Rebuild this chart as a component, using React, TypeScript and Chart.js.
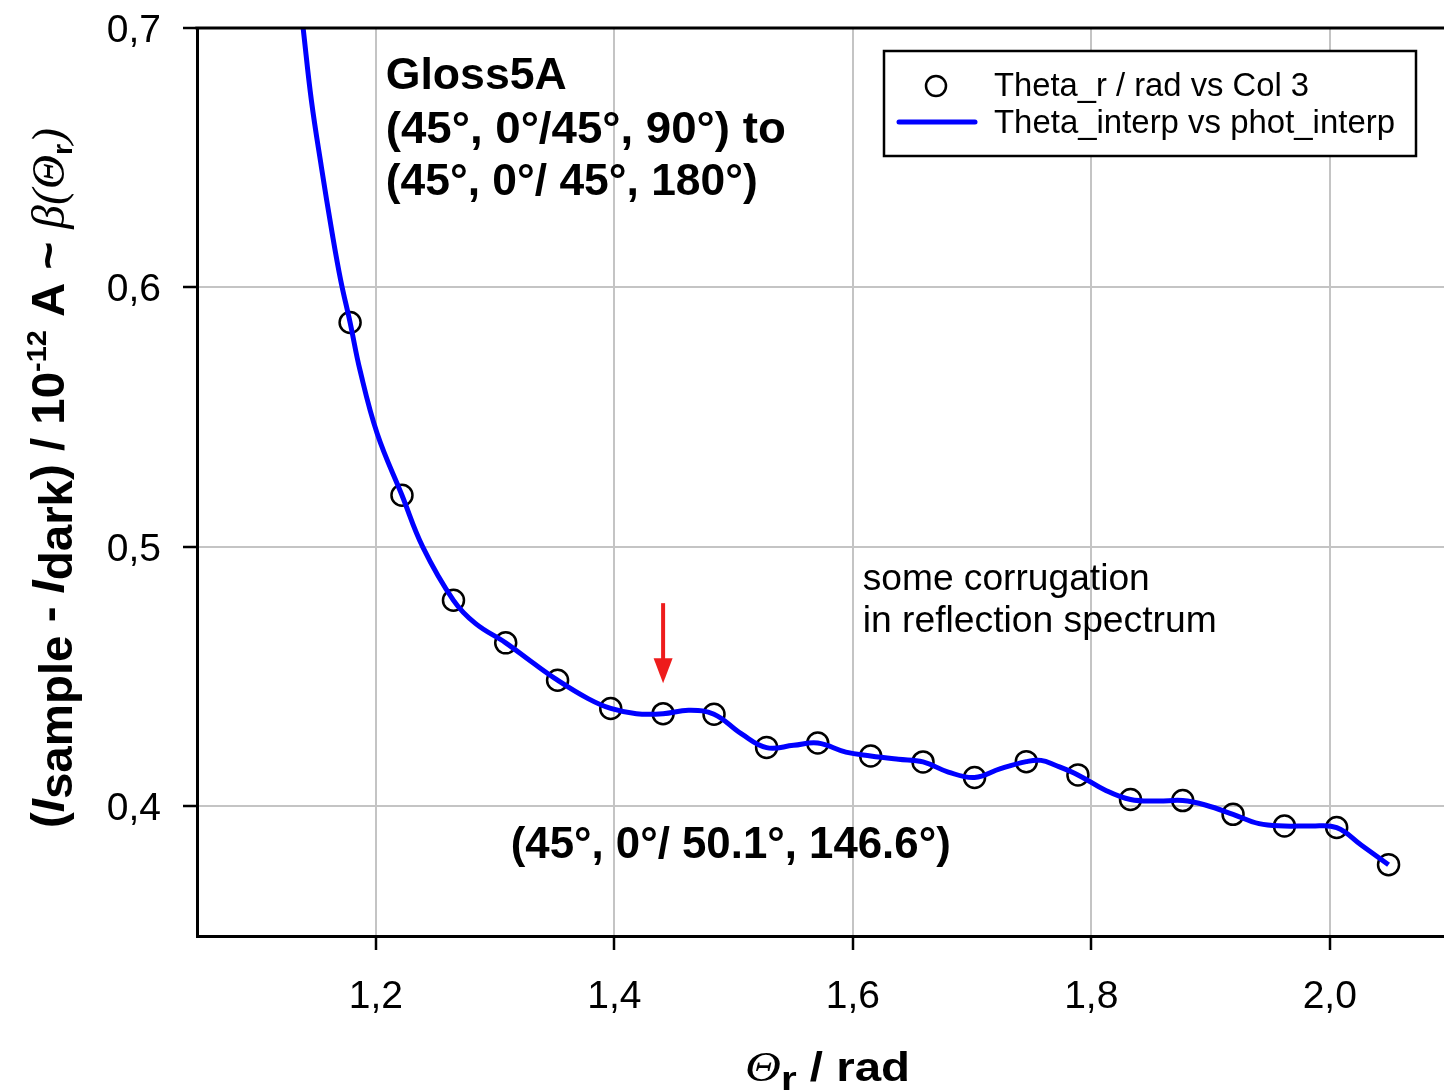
import React, { useEffect, useRef } from 'react';
import { Chart, registerables } from 'chart.js';
Chart.register(...registerables);

// Measured points (Theta_r / rad vs Col 3)
const thetaR = [1.1784, 1.2219, 1.2651, 1.3089, 1.3524, 1.3970, 1.4409, 1.4836, 1.5277, 1.5706, 1.6150, 1.6589, 1.7021, 1.7455, 1.7888, 1.8329, 1.8767, 1.9189, 1.9620, 2.0058, 2.0493];
const col3 = [0.5865, 0.5199, 0.4794, 0.4630, 0.4486, 0.4377, 0.4357, 0.4355, 0.4227, 0.4244, 0.4194, 0.4171, 0.4111, 0.4172, 0.4121, 0.4026, 0.4022, 0.3969, 0.3924, 0.3918, 0.3775];

// Interpolated curve (Theta_interp vs phot_interp)
const thetaInterp = [1.1390, 1.1459, 1.1543, 1.1634, 1.1705, 1.1784, 1.1867, 1.2011, 1.2219, 1.2393, 1.2651, 1.2837, 1.3089, 1.3308, 1.3524, 1.3780, 1.3970, 1.4185, 1.4409, 1.4625, 1.4836, 1.5064, 1.5277, 1.5503, 1.5706, 1.5942, 1.6150, 1.6382, 1.6589, 1.6801, 1.7021, 1.7239, 1.7455, 1.7579, 1.7699, 1.7888, 1.8118, 1.8329, 1.8557, 1.8767, 1.8963, 1.9189, 1.9407, 1.9620, 1.9836, 2.0058, 2.0266, 2.0493];
const photInterp = [0.7, 0.6722, 0.6465, 0.6208, 0.6028, 0.5865, 0.5681, 0.5437, 0.5199, 0.5, 0.4794, 0.4704, 0.4630, 0.4556, 0.4486, 0.4415, 0.4377, 0.4357, 0.4357, 0.4370, 0.4355, 0.4280, 0.4226, 0.4235, 0.4244, 0.4209, 0.4194, 0.4181, 0.4171, 0.4132, 0.4111, 0.4145, 0.4172, 0.4177, 0.4158, 0.4121, 0.4062, 0.4026, 0.4020, 0.4022, 0.4004, 0.3969, 0.3933, 0.3924, 0.3924, 0.3918, 0.3850, 0.3775];

const xTickValues = [1.2, 1.4, 1.6, 1.8, 2.0];
const yTickValues = [0.4, 0.5, 0.6, 0.7];

const legendLabels = ['Theta_r / rad vs Col 3', 'Theta_interp vs phot_interp'];
const titleLines = ['Gloss5A', '(45°, 0°/45°, 90°) to', '(45°, 0°/ 45°, 180°)'];
const noteLines = ['some corrugation', 'in reflection spectrum'];
const markLabel = '(45°, 0°/ 50.1°, 146.6°)';

const SANS = "'Liberation Sans', Arial, sans-serif";
const SERIF = "'Liberation Serif', 'Times New Roman', serif";

type Seg = { text: string; font: string; dy?: number; color?: string };

function drawRich(ctx: CanvasRenderingContext2D, segs: Seg[], x: number, y: number, target?: number) {
  ctx.save();
  ctx.textAlign = 'left';
  ctx.textBaseline = 'alphabetic';
  let total = 0;
  const widths = segs.map((s) => {
    ctx.font = s.font;
    const w = ctx.measureText(s.text).width;
    total += w;
    return w;
  });
  const k = target ? target / total : 1;
  ctx.translate(x, y);
  ctx.scale(k, 1);
  let cx = 0;
  segs.forEach((s, i) => {
    ctx.font = s.font;
    ctx.fillStyle = s.color || '#000';
    ctx.fillText(s.text, cx, s.dy || 0);
    cx += widths[i];
  });
  ctx.restore();
}

function drawScaled(ctx: CanvasRenderingContext2D, text: string, font: string, x: number, y: number, k: number, align: 'left' | 'center' | 'right') {
  ctx.save();
  ctx.font = font;
  ctx.fillStyle = '#000';
  ctx.textAlign = align;
  ctx.textBaseline = 'alphabetic';
  ctx.translate(x, y);
  ctx.scale(k, 1);
  ctx.fillText(text, 0, 0);
  ctx.restore();
}

const fmt = (v: number) => v.toFixed(1).replace('.', ',');

const decorPlugin = {
  id: 'decor',
  afterDatasetsDraw(chart: any) {
    const { ctx, chartArea, scales } = chart;
    const xs = scales.x;
    const ys = scales.y;
    const px = (v: number) => xs.getPixelForValue(v);
    const py = (v: number) => ys.getPixelForValue(v);
    ctx.save();

    // top frame line
    ctx.strokeStyle = '#000';
    ctx.lineWidth = 3;
    ctx.beginPath();
    ctx.moveTo(chartArea.left - 1.5, chartArea.top);
    ctx.lineTo(chartArea.right, chartArea.top);
    ctx.stroke();

    // tick labels
    const TF = `39px ${SANS}`;
    yTickValues.forEach((v) => drawScaled(ctx, fmt(v), TF, 161, py(v) + 14, 1, 'right'));
    xTickValues.forEach((v) => drawScaled(ctx, fmt(v), TF, px(v), 1008, 1, 'center'));

    // annotation block top-left
    const B45 = `bold 45px ${SANS}`;
    drawRich(ctx, [{ text: titleLines[0], font: B45 }], px(1.2083), py(0.6764), 181);
    drawRich(ctx, [{ text: titleLines[1], font: B45 }], px(1.2083), py(0.6556), 400);
    drawRich(ctx, [{ text: titleLines[2], font: B45 }], px(1.2083), py(0.6355), 372);

    // corrugation note
    const R37 = `37px ${SANS}`;
    drawRich(ctx, [{ text: noteLines[0], font: R37 }], px(1.6083), py(0.4833), 287);
    drawRich(ctx, [{ text: noteLines[1], font: R37 }], px(1.6083), py(0.4671), 354);

    // bottom label
    drawRich(ctx, [{ text: markLabel, font: B45 }], px(1.3131), py(0.38), 440);

    // red arrow
    const ax = px(1.4409);
    const aTop = py(0.4783);
    const aTip = py(0.4474);
    ctx.strokeStyle = '#ee1c1c';
    ctx.fillStyle = '#ee1c1c';
    ctx.lineWidth = 4;
    ctx.beginPath();
    ctx.moveTo(ax, aTop);
    ctx.lineTo(ax, aTip - 18);
    ctx.stroke();
    ctx.beginPath();
    ctx.moveTo(ax - 9.5, aTip - 25);
    ctx.lineTo(ax + 9.5, aTip - 25);
    ctx.lineTo(ax, aTip);
    ctx.closePath();
    ctx.fill();

    // legend box
    ctx.fillStyle = '#fff';
    ctx.fillRect(884, 51, 532, 105);
    ctx.strokeStyle = '#000';
    ctx.lineWidth = 2.5;
    ctx.strokeRect(884, 51, 532, 105);
    ctx.beginPath();
    ctx.arc(936, 86, 10, 0, Math.PI * 2);
    ctx.lineWidth = 2.5;
    ctx.stroke();
    ctx.strokeStyle = '#0000ff';
    ctx.lineWidth = 5;
    ctx.lineCap = 'round';
    ctx.beginPath();
    ctx.moveTo(899, 122);
    ctx.lineTo(975, 122);
    ctx.stroke();
    const R33 = `33px ${SANS}`;
    drawRich(ctx, [{ text: legendLabels[0], font: R33 }], 994, 96, 315);
    drawRich(ctx, [{ text: legendLabels[1], font: R33 }], 994, 133, 401);

    // x axis title
    drawRich(
      ctx,
      [
        { text: 'Θ', font: `italic 42px ${SERIF}` },
        { text: 'r', font: `bold 34px ${SANS}`, dy: 9 },
        { text: ' / rad', font: `bold 40px ${SANS}` },
      ],
      745,
      1081,
      165
    );

    // y axis title (rotated)
    ctx.save();
    ctx.translate(64, 828);
    ctx.rotate(-Math.PI / 2);
    const B46 = `bold 46px ${SANS}`;
    const BI46 = `italic bold 46px ${SANS}`;
    drawRich(
      ctx,
      [
        { text: '(', font: B46 },
        { text: 'I', font: BI46 },
        { text: 'sample', font: B46, dy: 8 },
        { text: ' - ', font: B46 },
        { text: 'I', font: BI46 },
        { text: 'dark', font: B46, dy: 8 },
        { text: ') / 10', font: B46 },
        { text: '-12', font: `bold 28px ${SANS}`, dy: -18 },
        { text: ' A ~ ', font: B46 },
        { text: 'β(Θ', font: `italic 46px ${SERIF}` },
        { text: 'r', font: `bold 28px ${SANS}`, dy: 8 },
        { text: ')', font: `italic 46px ${SERIF}` },
      ],
      0,
      0,
      700
    );
    ctx.restore();

    ctx.restore();
  },
};

export default function App() {
  const ref = useRef<HTMLCanvasElement | null>(null);

  useEffect(() => {
    document.body.style.margin = '0';
    document.body.style.overflow = 'hidden';
    const canvas = ref.current;
    if (!canvas) return;
    const chart = new Chart(canvas, {
      type: 'line',
      data: {
        datasets: [
          {
            label: legendLabels[1],
            data: thetaInterp.map((x, i) => ({ x, y: photInterp[i] })),
            borderColor: '#0000ff',
            borderWidth: 5,
            pointRadius: 0,
            fill: false,
            tension: 0.4,
            order: 0,
          },
          {
            label: legendLabels[0],
            data: thetaR.map((x, i) => ({ x, y: col3[i] })),
            showLine: false,
            pointRadius: 10.5,
            pointBorderWidth: 2.5,
            pointBorderColor: '#000',
            pointBackgroundColor: 'rgba(0,0,0,0)',
            order: 1,
          },
        ],
      },
      options: {
        responsive: false,
        animation: false,
        events: [],
        layout: { padding: { top: 28, left: 0, right: 2, bottom: 0 } },
        plugins: { legend: { display: false }, tooltip: { enabled: false } },
        scales: {
          x: {
            type: 'linear',
            min: 1.05,
            max: 2.1,
            afterBuildTicks: (s: any) => {
              s.ticks = xTickValues.map((v) => ({ value: v }));
            },
            afterFit: (s: any) => {
              s.height = 155;
            },
            ticks: { display: false },
            grid: { color: '#c4c4c4', lineWidth: 2, tickColor: '#000', tickLength: 14, tickWidth: 2.5 },
            border: { display: true, color: '#000', width: 3 },
          },
          y: {
            type: 'linear',
            min: 0.35,
            max: 0.7,
            afterBuildTicks: (s: any) => {
              s.ticks = yTickValues.map((v) => ({ value: v }));
            },
            afterFit: (s: any) => {
              s.width = 197;
            },
            ticks: { display: false },
            grid: { color: '#c4c4c4', lineWidth: 2, tickColor: '#000', tickLength: 14, tickWidth: 2.5 },
            border: { display: true, color: '#000', width: 3 },
          },
        },
      },
      plugins: [decorPlugin],
    } as any);
    return () => chart.destroy();
  }, []);

  return (
    <div style={{ width: 1444, height: 1091, overflow: 'hidden', position: 'relative', background: '#fff' }}>
      <canvas ref={ref} width={1462} height={1091} style={{ display: 'block' }} />
    </div>
  );
}
